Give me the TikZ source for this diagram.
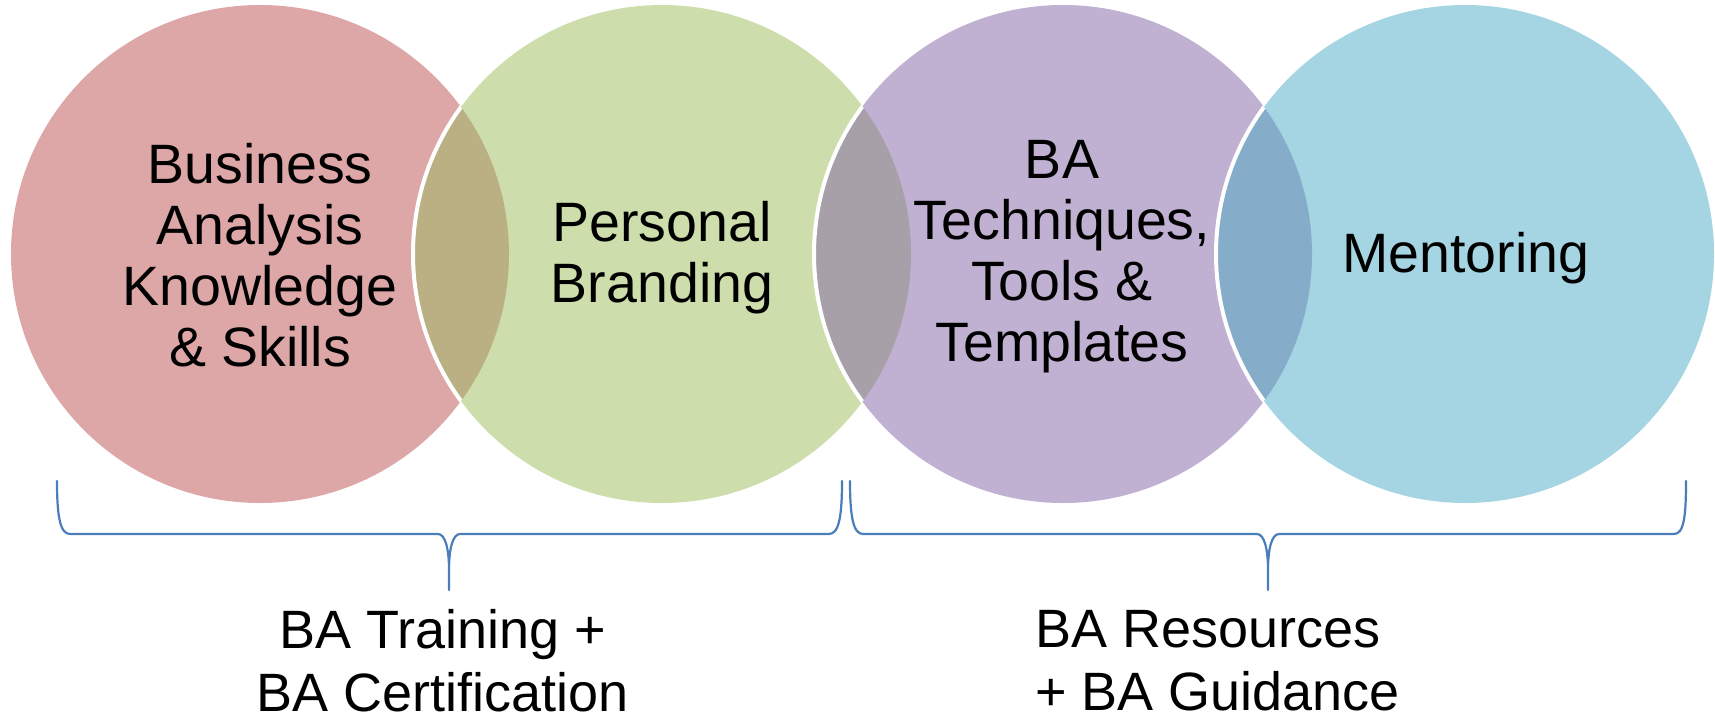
\documentclass[tikz,border=0pt]{standalone}
\usepackage{fontspec}
\setmainfont{Liberation Sans}
\definecolor{pinkc}{HTML}{DEA7A7}
\definecolor{greenc}{HTML}{CDDDAC}
\definecolor{purplec}{HTML}{C0B1D2}
\definecolor{bluec}{HTML}{A5D5E2}
\definecolor{ovA}{HTML}{BBB083}
\definecolor{ovB}{HTML}{A7A0A8}
\definecolor{ovC}{HTML}{85ACC8}
\definecolor{bracec}{HTML}{4A7EBB}
\tikzset{
  circ/.style={circle, minimum size=498pt, inner sep=0pt, draw=none},
  ctext/.style={align=center, font=\fontsize{55.5}{61}\selectfont, inner sep=0pt},
  btext/.style={font=\fontsize{54}{63}\selectfont, inner sep=0pt},
  bracepath/.style={draw=bracec, line width=2.2pt, line join=round, line cap=round}
}
\begin{document}
\begin{tikzpicture}[x=1pt,y=-1pt]
\useasboundingbox (0,0) rectangle (1715,720);
\def\R{249}
% circles
\node[circ, fill=pinkc] (c1) at (260,254) {};
\node[circ, fill=greenc] (c2) at (662,254) {};
\begin{scope}
  \clip (260,254) circle[radius=\R];
  \fill[ovA] (662,254) circle[radius=\R];
  \draw[white, line width=4pt] (662,254) circle[radius=\R];
\end{scope}
\node[circ, fill=purplec] (c3) at (1063,254) {};
\begin{scope}
  \clip (662,254) circle[radius=\R];
  \fill[ovB] (1063,254) circle[radius=\R];
  \draw[white, line width=4pt] (1063,254) circle[radius=\R];
\end{scope}
\node[circ, fill=bluec] (c4) at (1465,254) {};
\begin{scope}
  \clip (1063,254) circle[radius=\R];
  \fill[ovC] (1465,254) circle[radius=\R];
  \draw[white, line width=4pt] (1465,254) circle[radius=\R];
\end{scope}
% circle texts
\node[ctext] (t1) at (260,255) {Business\\Analysis\\Knowledge\\\& Skills};
\node[ctext] (t2) at (662,258) {Personal\\Branding};
\node[ctext] (t3) at (1062,257) {BA\\Techniques,\\Tools \&\\Templates};
\node[ctext] (t4) at (1466,258) {Mentoring};
% braces
\path[bracepath] (57,481) .. controls (57,516) and (60,534) .. (70,534)
  -- (438,534) .. controls (445,534) and (449,548) .. (449,570) -- (449,590)
  (449,570) .. controls (449,548) and (453,534) .. (460,534)
  -- (829,534) .. controls (839,534) and (842,516) .. (842,481);
\path[bracepath] (850,481) .. controls (850,516) and (853,534) .. (863,534)
  -- (1257,534) .. controls (1264,534) and (1268,548) .. (1268,570) -- (1268,590)
  (1268,570) .. controls (1268,548) and (1272,534) .. (1279,534)
  -- (1674,534) .. controls (1684,534) and (1686,516) .. (1686,481);
% bottom labels
\node[btext, align=center] (b1) at (443,661) {BA Training +\\BA Certification};
\node[btext, align=left, anchor=west] (b2) at (1035,661) {BA Resources\\+ BA Guidance};
\end{tikzpicture}
\end{document}
